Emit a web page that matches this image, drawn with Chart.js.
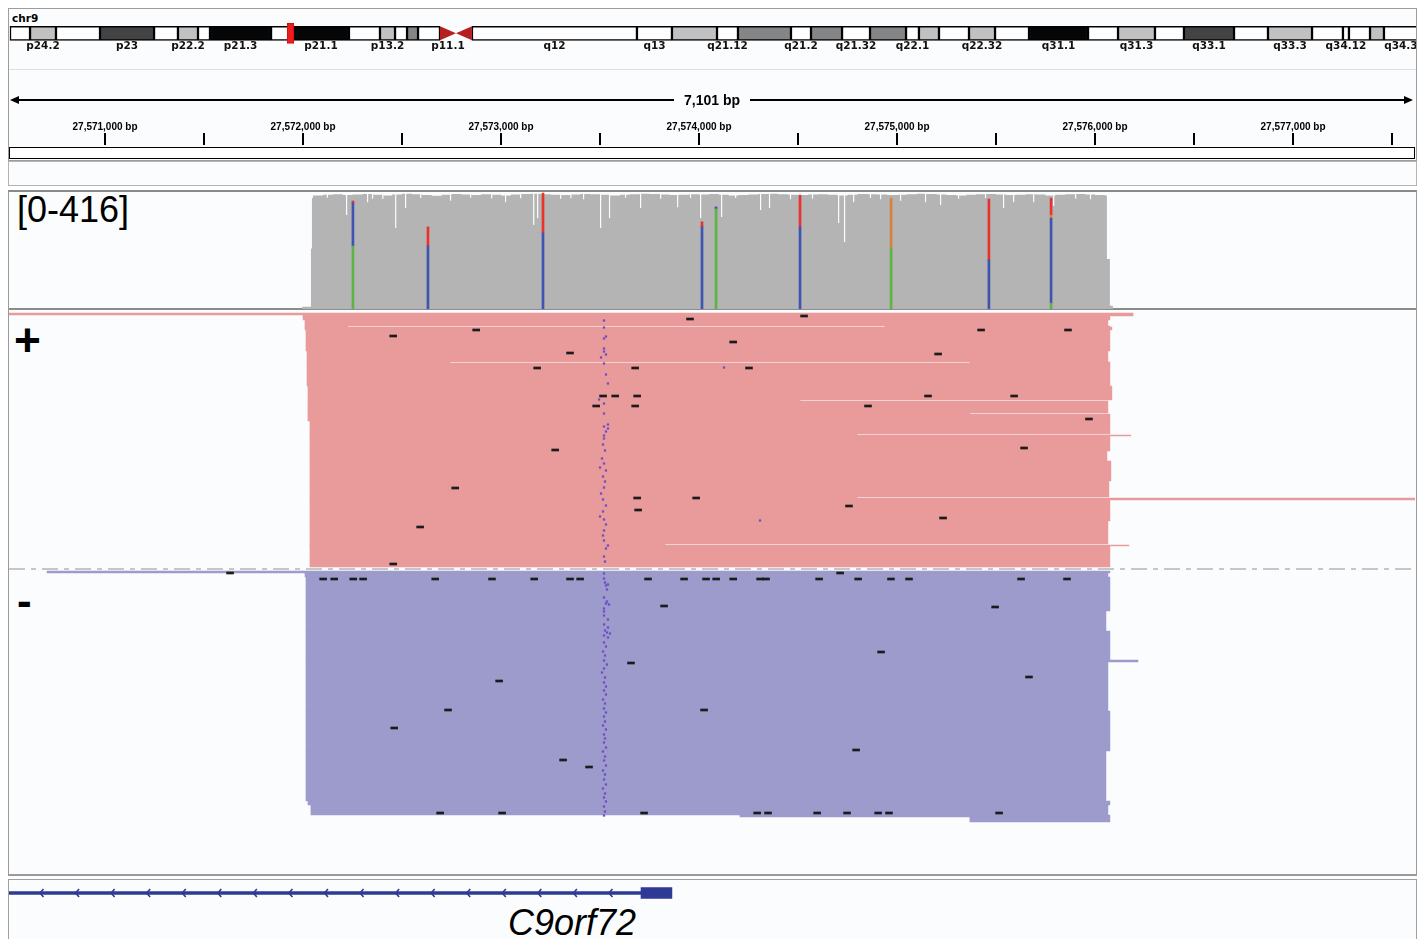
<!DOCTYPE html>
<html>
<head>
<meta charset="utf-8">
<title>IGV – C9orf72</title>
<script src="https://cdn.jsdelivr.net/npm/chart.js@4/dist/chart.umd.min.js"></script>
<style>
  html,body{margin:0;padding:0;width:1426px;height:939px;overflow:hidden;background:#ffffff;}
  .box{position:absolute;box-sizing:border-box;}
  .txt{position:absolute;white-space:nowrap;color:#000;}
  canvas{position:absolute;}
</style>
</head>
<body>
<div class="box" style="left:8px;top:8px;width:1409px;height:153px;border:1px solid #9c9c9c;background:#fbfcfe"></div>
<div class="box" style="left:9px;top:69px;width:1407px;height:1px;background:#dcdfe6"></div>
<div class="box" style="left:9px;top:147px;width:1406px;height:12px;border:1.5px solid #000;background:#fff"></div>
<div class="box" style="left:8px;top:161px;width:1409px;height:25px;border:1px solid #b4b4b4;background:#fbfcfe"></div>
<div class="box" style="left:8px;top:190px;width:1409px;height:686px;border:1px solid #9a9a9a;border-top:2px solid #8a8a8a;border-bottom:2px solid #9a9a9a;background:#fbfcfe"></div>
<div class="box" style="left:9px;top:308px;width:1407px;height:2px;background:#8c8c8c"></div>
<div class="box" style="left:8px;top:879px;width:1409px;height:62px;border:1px solid #a0a0a0;background:#fbfcfe"></div>

<div class="txt" style="left:12px;top:11px;font:bold 10.5px 'DejaVu Sans';line-height:14px">chr9</div>
<div class="txt" style="left:17px;top:192px;font:36px 'Liberation Sans';line-height:36px">[0-416]</div>
<div class="txt" style="left:14px;top:317px;font:bold 46px 'Liberation Sans';line-height:46px">+</div>
<div class="txt" style="left:17px;top:579px;font:bold 44px 'Liberation Sans';line-height:44px">-</div>
<div class="txt" style="left:508px;top:905px;font:italic 36px 'Liberation Sans';line-height:36px">C9orf72</div>

<canvas id="ideo" width="1408" height="52" style="left:8px;top:8px"></canvas>
<canvas id="ruler" width="1406" height="90" style="left:9px;top:70px"></canvas>
<canvas id="cov" width="1406" height="117" style="left:9px;top:192px"></canvas>
<canvas id="reads" width="1406" height="563" style="left:9px;top:311px"></canvas>
<canvas id="gene" width="1406" height="59" style="left:9px;top:880px"></canvas>

<script>
// ---------------- DATA ----------------
// view (chr9, bp)
const X_MIN = 27570515;
const X_MAX = 27577616;
const rulerTicks = [27571000,27571500,27572000,27572500,27573000,27573500,27574000,27574500,27575000,27575500,27576000,27576500,27577000,27577500];

// chr9 cytobands (Mb)
const bandNames = ['p24.3','p24.2','p24.1','p23','p22.3','p22.2','p22.1','p21.3','p21.2','p21.1','p13.3','p13.2','p13.1','p12','p11.2','p11.1','q11','q12','q13','q21.11','q21.12','q21.13','q21.2','q21.31','q21.32','q21.33','q22.1','q22.2','q22.31','q22.32','q22.33','q31.1','q31.2','q31.3','q32','q33.1','q33.2','q33.3','q34.11','q34.12','q34.13','q34.2','q34.3'];
const bandStartsMb = [0,1.97,4.52,8.85,14.16,16.51,18.48,19.66,25.66,27.82,33.32,36.37,37.85,39.03,40.11,42.27,43.84,45.41,61.63,65.07,69.50,71.56,76.77,78.74,81.79,84.54,88.08,89.35,91.32,94.27,96.83,100.17,105.97,108.92,112.55,115.40,120.32,123.66,127.99,131.03,131.62,133.69,135.06];
const bandEndsMb = [1.97,4.52,8.85,14.16,16.51,18.48,19.66,25.66,27.82,33.32,36.37,37.85,39.03,40.11,42.27,43.84,45.41,61.63,65.07,69.50,71.56,76.77,78.74,81.79,84.54,88.08,89.35,91.32,94.27,96.83,100.17,105.97,108.92,112.55,115.40,120.32,123.66,127.99,131.03,131.62,133.69,135.06,138.40];
const bandStains = ['gneg','gpos25','gneg','gpos75','gneg','gpos25','gneg','gpos100','gneg','gpos100','gneg','gpos25','gneg','gpos50','gneg','acen','acen','gneg','gneg','gpos25','gneg','gpos50','gneg','gpos50','gneg','gpos50','gneg','gpos25','gneg','gpos25','gneg','gpos100','gneg','gpos25','gneg','gpos75','gneg','gpos25','gneg','gneg','gneg','gpos25','gneg'];
const shownBandLabels = ['p24.2','p23','p22.2','p21.3','p21.1','p13.2','p11.1','q12','q13','q21.12','q21.2','q21.32','q22.1','q22.32','q31.1','q31.3','q33.1','q33.3','q34.12','q34.3'];
const viewMarkerMb = [27.25, 27.90];

// coverage (reads depth), 50 bp bins from covBinStart
const covBinStart = 27572050;
const covBinSize = 50;
const covBins = [404,406,408,405,407,409,406,404,407,410,
                 408,405,403,406,409,407,405,408,406,404,
                 407,409,410,408,406,405,407,409,408,406,
                 404,406,408,410,409,407,405,406,408,407,
                 409,406,404,405,407,409,410,408,406,405,
                 407,408,406,404,406,409,408,407,405,406,
                 408,410,409,407,405,404,406,408,409,407,
                 405,406,408,407,404,406,408,409,407,405,
                 404];
const covRampIn = [[27571995,8],[27572040,215],[27572045,395]];
const covRampOut = [[27576060,178],[27576075,12],[27576090,0]];
// narrow coverage dips [bp, depth]
const covDips = [[27572120,396],[27572217,334],[27572323,380],[27572348,392],[27572400,391],[27572465,288],[27572515,359],[27572591,395],
  [27572742,385],[27572843,396],[27572950,393],[27573020,380],[27573096,394],[27573162,299],[27573182,324],[27573298,392],
  [27573350,394],[27573414,390],[27573500,288],[27573545,324],[27573626,396],[27573702,359],[27573803,392],[27573889,362],
  [27573954,395],[27574005,324],[27574111,327],[27574182,395],[27574308,352],[27574353,359],[27574459,390],[27574570,392],
  [27574702,306],[27574732,238],[27574778,380],[27574863,395],[27574914,390],[27575015,385],[27575141,380],[27575217,370],
  [27575308,392],[27575444,395],[27575535,359],[27575586,380],[27575687,380],[27575788,366],[27575899,392],[27575974,390]];

// mismatch sites: allele counts
const alleleSites = [27572252,27572631,27573212,27574015,27574086,27574510,27574970,27575464,27575778];
const countA = [224,0,0,0,356,0,217,0,21];
const countC = [153,224,270,292,7,292,0,174,302];
const countG = [0,0,0,0,0,0,178,0,11];
const countT = [7,68,142,18,0,113,0,217,60];

// reads (squished rows): [rowFrom, rowTo, start bp, end bp]
const plusReads = [
  [2,4,27570515,27572000],[2,5,27572000,27576192],[5,9,27572000,27576075],[9,15,27572010,27576065],
  [15,16,27572010,27572227],[15,16,27574939,27576075],[16,19,27572010,27576085],[19,40,27572015,27576075],
  [40,51,27572020,27576065],[51,52,27572020,27572742],[51,52,27575368,27576075],[52,75,27572020,27576075],
  [75,89,27572025,27576085],[89,90,27572025,27574510],[90,102,27572025,27576065],[102,103,27572025,27575368],
  [103,110,27572025,27576075],[110,123,27572035,27576075],[123,124,27572035,27574798],[124,125,27572035,27576181],
  [125,140,27572035,27576075],[140,150,27572035,27576060],[150,170,27572035,27576080],[170,186,27572035,27576070],
  [186,187,27572035,27574798],[187,189,27572035,27577616],[189,210,27572035,27576075],[210,233,27572035,27576065],
  [233,234,27572035,27573828],[234,235,27572035,27576171],[235,256,27572035,27576075]
];
const minusReads = [
  [260,262,27570707,27576075],[262,266,27572010,27576065],[266,300,27572015,27576075],[300,320,27572015,27576055],
  [320,349,27572015,27576075],[349,351,27572015,27576217],[351,400,27572015,27576065],[400,440,27572015,27576075],
  [440,490,27572015,27576055],[490,494,27572025,27576075],[494,504,27572040,27576065],[504,506,27574207,27576075],
  [506,511,27575368,27576075]
];
const strandSeparatorRow = 258;

// deletions: [row, centre bp]
const plusDeletions = [[24,27572455],[18,27572874],[7,27573954],[4,27574530],[18,27575424],[18,27575863],[41,27573348],[30,27574172],
  [42,27575207],[56,27573182],[56,27574252],[56,27573677],[84,27573515],[84,27573576],[84,27573687],[94,27573480],[94,27573677],
  [84,27575156],[84,27575591],[94,27574853],[107,27575969],[138,27573273],[136,27575641],[176,27572768],[186,27573687],[186,27573985],
  [194,27574757],[206,27575232],[198,27573692],[215,27572591],[252,27572455]];
const minusDeletions = [[267,27572101],[267,27572157],[267,27572253],[267,27572303],[267,27572667],[267,27572954],[267,27573167],
  [267,27573348],[267,27573399],[267,27573742],[267,27573924],[267,27574035],[267,27574086],[267,27574172],[267,27574308],[267,27574338],
  [267,27574606],[267,27574803],[267,27574969],[267,27575060],[267,27575626],[267,27575858],[261,27571631],[261,27574712],
  [294,27573823],[295,27575495],[351,27573656],[340,27574919],[369,27572990],[365,27575666],[398,27572732],[398,27574025],
  [416,27572460],[438,27574793],[448,27573313],[455,27573444],[501,27572692],[501,27573005],[501,27573722],[501,27574293],
  [501,27574348],[501,27574596],[501,27574747],[501,27574904],[501,27574959],[501,27575515]];

// insertions: [row, bp]
const insertions = [[9,27573520],[16,27573520],[25,27573530],[27,27573520],[37,27573520],[40,27573520],[43,27573530],[46,27573505],
  [52,27573520],[63,27573530],[72,27573540],[88,27573495],[92,27573520],[102,27573520],[113,27573540],[115,27573520],[117,27573540],
  [120,27573530],[124,27573520],[127,27573520],[133,27573515],[139,27573525],[147,27573510],[152,27573520],[156,27573500],
  [159,27573530],[165,27573515],[170,27573525],[176,27573520],[182,27573505],[188,27573515],[194,27573530],[200,27573515],
  [205,27573500],[208,27573520],[213,27573530],[219,27573520],[224,27573515],[229,27573520],[234,27573540],[237,27573530],
  [245,27573520],[250,27573525],[56,27574126],[209,27574308],
  [262,27573520],[267,27573520],[271,27573525],[273,27573540],[274,27573530],[278,27573535],[286,27573520],[290,27573535],
  [292,27573530],[293,27573545],[297,27573520],[300,27573520],[304,27573520],[308,27573540],[313,27573520],[316,27573540],
  [319,27573525],[321,27573535],[322,27573550],[324,27573520],[326,27573540],[331,27573520],[335,27573530],[340,27573515],
  [344,27573525],[349,27573520],[353,27573535],[357,27573520],[361,27573510],[366,27573525],[371,27573520],[375,27573530],
  [379,27573520],[383,27573530],[388,27573515],[392,27573525],[397,27573520],[401,27573530],[405,27573520],[410,27573525],
  [414,27573515],[418,27573530],[423,27573520],[427,27573525],[431,27573520],[436,27573530],[440,27573515],[445,27573525],
  [449,27573520],[454,27573530],[459,27573515],[463,27573525],[468,27573520],[473,27573530],[477,27573515],[482,27573525],
  [486,27573520],[490,27573530],[495,27573520],[500,27573525],[504,27573520]];

// gene model C9orf72 (minus strand)
const geneName = 'C9orf72';
const geneStart = 27546545;
const geneEnd = 27573863;
const exonStart = 27573707;

// ---------------- STYLE ----------------
const stainColors = {gneg:'#ffffff', gpos25:'#c1c1c1', gpos50:'#858585', gpos75:'#434343', gpos100:'#060606', acen:'#b51f1f'};
const PLUS_COLOR = '#e99a9a';
const MINUS_COLOR = '#9d9acc';
const GENE_COLOR = '#2e3a94';
const baseColors = {A:'#5fb246', C:'#3f54b0', G:'#d9823b', T:'#e8322e'};

const common = {responsive:false, animation:false, devicePixelRatio:1, layout:{padding:0, autoPadding:false},
  plugins:{legend:{display:false}, tooltip:{enabled:false}}, events:[]};
function hiddenLinear(min, max, reverse){
  return {type:'linear', min, max, reverse:!!reverse, display:false, offset:false, grid:{offset:false}, beginAtZero:false};
}

// ---------------- IDEOGRAM ----------------
const ideoDecor = {
  id:'ideoDecor',
  afterDatasetsDraw(chart){
    const {ctx} = chart; const x = chart.scales.x, y = chart.scales.y;
    const cy = y.getPixelForValue(0), h = 7;
    ctx.save();
    bandNames.forEach((n,i)=>{
      if (bandStains[i] !== 'acen') return;
      const x0 = x.getPixelForValue(bandStartsMb[i]), x1 = x.getPixelForValue(bandEndsMb[i]);
      ctx.fillStyle = stainColors.acen;
      ctx.beginPath();
      if (n.startsWith('p')) { ctx.moveTo(x0, cy-h); ctx.lineTo(x1, cy); ctx.lineTo(x0, cy+h); }
      else { ctx.moveTo(x1, cy-h); ctx.lineTo(x0, cy); ctx.lineTo(x1, cy+h); }
      ctx.closePath(); ctx.fill();
    });
    ctx.font = 'bold 10.5px "DejaVu Sans"';
    ctx.fillStyle = '#111'; ctx.textAlign = 'center'; ctx.textBaseline = 'middle';
    bandNames.forEach((n,i)=>{
      if (!shownBandLabels.includes(n)) return;
      const cx = x.getPixelForValue((bandStartsMb[i]+bandEndsMb[i])/2);
      ctx.fillText(n, cx, cy+13);
    });
    ctx.restore();
  }
};
const bandData = [], bandFill = [];
bandNames.forEach((n,i)=>{
  if (bandStains[i] === 'acen') return;
  bandData.push({x:[bandStartsMb[i], bandEndsMb[i]], y:0});
  bandFill.push(stainColors[bandStains[i]]);
});
new Chart(document.getElementById('ideo'), {
  type:'bar',
  data:{datasets:[
    {label:'view', indexAxis:'y', data:[{x:viewMarkerMb, y:0}], backgroundColor:'#ee1d1d', borderColor:'#d40f0f',
     borderWidth:1, borderSkipped:false, barThickness:20, grouped:false, order:0},
    {label:'bands', indexAxis:'y', data:bandData, backgroundColor:bandFill, borderColor:'#000', borderWidth:1.5,
     borderSkipped:false, barThickness:14, grouped:false, order:1}
  ]},
  options:{...common, scales:{x:hiddenLinear(-0.1966, 138.21), y:hiddenLinear(-1.05, 1)}},
  plugins:[ideoDecor]
});

// ---------------- RULER ----------------
const rulerSpan = {
  id:'rulerSpan',
  afterDraw(chart){
    const {ctx} = chart; const x = chart.scales.x;
    const y = 30, l = x.left + 1, r = x.right - 2;
    const label = (X_MAX - X_MIN).toLocaleString('en-US') + ' bp';
    ctx.save();
    ctx.font = 'bold 14px "Liberation Sans"';
    const tw = ctx.measureText(label).width, cx = (x.left + x.right)/2;
    ctx.strokeStyle = '#000'; ctx.fillStyle = '#000'; ctx.lineWidth = 2;
    ctx.beginPath(); ctx.moveTo(l+6, y); ctx.lineTo(cx - tw/2 - 10, y);
    ctx.moveTo(cx + tw/2 + 10, y); ctx.lineTo(r-6, y); ctx.stroke();
    ctx.beginPath(); ctx.moveTo(l, y); ctx.lineTo(l+9, y-4); ctx.lineTo(l+9, y+4); ctx.closePath(); ctx.fill();
    ctx.beginPath(); ctx.moveTo(r, y); ctx.lineTo(r-9, y-4); ctx.lineTo(r-9, y+4); ctx.closePath(); ctx.fill();
    ctx.textAlign = 'center'; ctx.textBaseline = 'middle'; ctx.fillText(label, cx, y+1);
    ctx.restore();
  }
};
new Chart(document.getElementById('ruler'), {
  type:'scatter', data:{datasets:[]},
  options:{...common,
    scales:{
      x:{type:'linear', position:'top', min:X_MIN, max:X_MAX, offset:false,
        afterFit(s){ s.height = 75; },
        afterBuildTicks(s){ s.ticks = rulerTicks.map(v=>({value:v})); },
        grid:{drawOnChartArea:false, drawTicks:true, offset:false, tickLength:12, color:'#000', tickColor:'#000', lineWidth:2, tickWidth:2},
        border:{display:false},
        ticks:{autoSkip:false, maxRotation:0, minRotation:0, padding:0, color:'#000',
          font:{family:'"Liberation Sans", Arial, sans-serif', size:10, weight:'bold'},
          callback:(v)=> (v % 1000 === 0) ? v.toLocaleString('en-US') + ' bp' : ''}
      },
      y:{display:false, min:0, max:1}
    }},
  plugins:[rulerSpan]
});

// ---------------- COVERAGE ----------------
const DIP_W = 6;
const covPoints = [{x:X_MIN, y:0}];
covRampIn.forEach(([p,v])=>covPoints.push({x:p, y:v}));
const bodyEnd = covRampOut[0][0];
const cuts = new Set();
covBins.forEach((v,i)=>{ cuts.add(covBinStart + i*covBinSize); });
covDips.forEach(([p])=>{ cuts.add(p); cuts.add(p + DIP_W); });
[...cuts].filter(p=>p>=covBinStart && p<bodyEnd).sort((a,b)=>a-b).forEach(p=>{
  const dip = covDips.find(([d])=> p>=d && p<d+DIP_W);
  const bi = Math.min(covBins.length-1, Math.floor((p-covBinStart)/covBinSize));
  covPoints.push({x:p, y: dip ? dip[1] : covBins[bi]});
});
covRampOut.forEach(([p,v])=>covPoints.push({x:p, y:v}));
covPoints.push({x:X_MAX, y:0});

const baseCounts = {A:countA, C:countC, G:countG, T:countT};
const alleleDatasets = [];
const runningBase = alleleSites.map(()=>0);
['A','C','G','T'].forEach(b=>{
  const data = [];
  alleleSites.forEach((pos,i)=>{
    const c = baseCounts[b][i];
    if (c > 0) data.push({x:pos, y:[runningBase[i], runningBase[i]+c]});
    runningBase[i] += c;
  });
  alleleDatasets.push({type:'bar', label:b, data, backgroundColor:baseColors[b], barThickness:2, grouped:false, order:0});
});
new Chart(document.getElementById('cov'), {
  type:'bar',
  data:{datasets:[...alleleDatasets,
    {type:'line', label:'coverage', data:covPoints, stepped:true, fill:'origin', backgroundColor:'#b4b4b4',
     borderWidth:0, pointRadius:0, tension:0, order:5}]},
  options:{...common, scales:{x:hiddenLinear(X_MIN, X_MAX), y:hiddenLinear(0, 416)}}
});

// ---------------- READS ----------------
const readDatasets = [];
function addReads(list, color){
  list.forEach(([r0,r1,s,e])=>{
    readDatasets.push({type:'bar', indexAxis:'y', data:[{x:[s,e], y:(r0+r1)/2}], backgroundColor:color,
      borderWidth:0, barThickness:r1-r0, grouped:false, order:4});
  });
}
addReads(plusReads, PLUS_COLOR);
addReads(minusReads, MINUS_COLOR);
const delData = [...plusDeletions, ...minusDeletions].map(([row,p])=>({x:[p-17, p+18], y:row+1}));
readDatasets.push({type:'bar', label:'deletions', indexAxis:'y', data:delData, backgroundColor:'#1b1b1b',
  borderWidth:0, barThickness:2, grouped:false, order:1});
readDatasets.push({type:'scatter', label:'insertions', data:insertions.map(([row,p])=>({x:p, y:row+0.5})),
  pointStyle:'rect', pointRadius:1.6, backgroundColor:'#6b4fc7', borderWidth:0, order:0});
readDatasets.push({type:'line', label:'strand', data:[{x:X_MIN, y:strandSeparatorRow},{x:X_MAX, y:strandSeparatorRow}],
  borderColor:'#c6c6c6', borderWidth:2, borderDash:[16,6,5,6], pointRadius:0, fill:false, order:2});
new Chart(document.getElementById('reads'), {
  type:'bar',
  data:{datasets:readDatasets},
  options:{...common, scales:{x:hiddenLinear(X_MIN, X_MAX), y:hiddenLinear(0, 563, true)}}
});

// ---------------- GENE ----------------
const chevrons = {
  id:'chevrons',
  afterDatasetsDraw(chart){
    const {ctx, chartArea} = chart; const x = chart.scales.x, y = chart.scales.y;
    const cy = y.getPixelForValue(13);
    const stop = x.getPixelForValue(exonStart) - 20;
    ctx.save();
    ctx.strokeStyle = GENE_COLOR; ctx.lineWidth = 1.6;
    for (let px = chartArea.left + 31; px < stop; px += 35.56) {
      ctx.beginPath(); ctx.moveTo(px+3.5, cy-4); ctx.lineTo(px, cy); ctx.lineTo(px+3.5, cy+4); ctx.stroke();
    }
    ctx.restore();
  }
};
new Chart(document.getElementById('gene'), {
  type:'bar',
  data:{datasets:[
    {label:geneName, indexAxis:'y', data:[{x:[exonStart, geneEnd], y:13}], backgroundColor:GENE_COLOR, borderWidth:0,
     barThickness:11, grouped:false, order:0},
    {label:geneName + ' intron', indexAxis:'y', data:[{x:[geneStart, exonStart], y:13}], backgroundColor:GENE_COLOR, borderWidth:0,
     barThickness:3, grouped:false, order:1}
  ]},
  options:{...common, scales:{x:hiddenLinear(X_MIN, X_MAX), y:hiddenLinear(0, 59, true)}},
  plugins:[chevrons]
});
</script>
</body>
</html>
